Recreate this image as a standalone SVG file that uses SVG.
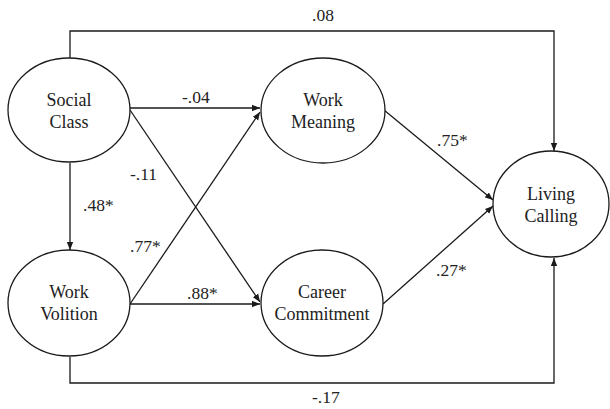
<svg xmlns="http://www.w3.org/2000/svg" width="610" height="409" viewBox="0 0 610 409">
<style>
text{font-family:"Liberation Serif","Times New Roman",Times,Tinos,"Noto Serif","DejaVu Serif",FreeSerif,Georgia,serif}
.node ellipse{fill:#fff;stroke:#1a1a1a;stroke-width:1.3}
.node text{font-size:18px;fill:#222;text-anchor:middle}
.lbl{font-size:17.5px;fill:#222}
.edges path{fill:none;stroke:#1a1a1a;stroke-width:1.3}
</style>
<defs>
<marker id="ah" viewBox="0 0 10 10" refX="10" refY="5" markerWidth="8" markerHeight="8" markerUnits="userSpaceOnUse" orient="auto">
<path d="M0,1 L10,5 L0,9 Z" fill="#1a1a1a"/>
</marker>
</defs>
<rect width="610" height="409" fill="#fff"/>
<g class="edges">
<path d="M70,58 V31 H554 V151" marker-end="url(#ah)"/>
<path d="M70,357 V383 H554 V258" marker-end="url(#ah)"/>
<path d="M70,163 V250" marker-end="url(#ah)"/>
<path d="M130,108 H260" marker-end="url(#ah)"/>
<path d="M130,304 H260" marker-end="url(#ah)"/>
<path d="M130,110 L260,302" marker-end="url(#ah)"/>
<path d="M130,304 L260,112" marker-end="url(#ah)"/>
<path d="M384,110 L493,200" marker-end="url(#ah)"/>
<path d="M383,304 L493,206" marker-end="url(#ah)"/>
</g>
<g id="social-class" class="node">
<ellipse cx="69" cy="110" rx="61" ry="52"/>
<text x="69" y="106">Social</text>
<text x="69" y="128">Class</text>
</g>
<g id="work-volition" class="node">
<ellipse cx="69" cy="303" rx="61" ry="53"/>
<text x="69" y="298">Work</text>
<text x="69" y="320">Volition</text>
</g>
<g id="work-meaning" class="node">
<ellipse cx="323" cy="110.5" rx="62" ry="52.5"/>
<text x="323" y="106">Work</text>
<text x="323" y="128">Meaning</text>
</g>
<g id="career-commitment" class="node">
<ellipse cx="322" cy="303" rx="61" ry="53"/>
<text x="322" y="298">Career</text>
<text x="322" y="320">Commitment</text>
</g>
<g id="living-calling" class="node">
<ellipse cx="551" cy="204" rx="58" ry="53"/>
<text x="551" y="200">Living</text>
<text x="551" y="222">Calling</text>
</g>
<g id="labels">
<text class="lbl" x="312" y="21">.08</text>
<text class="lbl" x="182" y="103">-.04</text>
<text class="lbl" x="130" y="180">-.11</text>
<text class="lbl" x="83" y="211">.48*</text>
<text class="lbl" x="130" y="252">.77*</text>
<text class="lbl" x="187" y="299">.88*</text>
<text class="lbl" x="437" y="146">.75*</text>
<text class="lbl" x="436" y="276">.27*</text>
<text class="lbl" x="312" y="403">-.17</text>
</g>
</svg>
